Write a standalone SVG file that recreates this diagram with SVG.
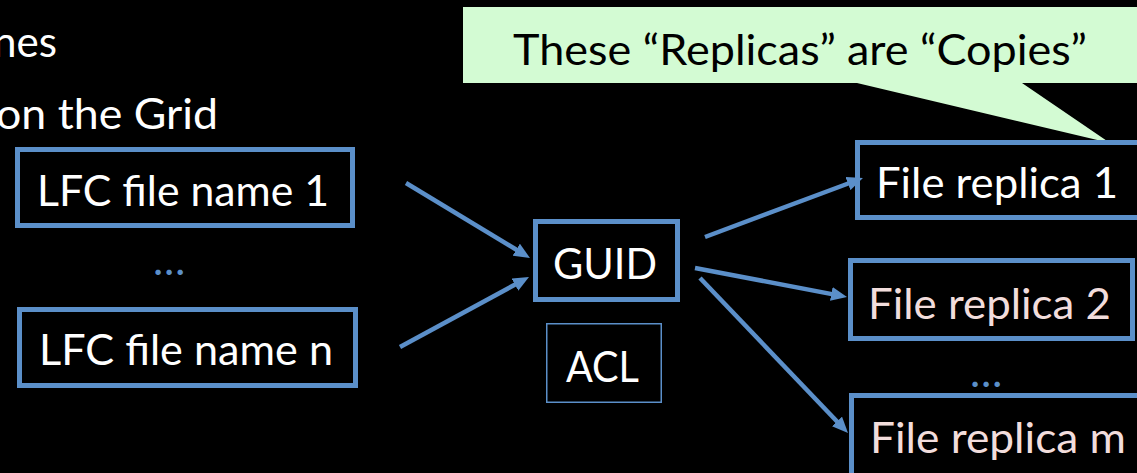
<svg xmlns="http://www.w3.org/2000/svg" width="1137" height="473" viewBox="0 0 1137 473">
  <defs>
    <style>
      text { font-family: Lato, "Open Sans", "Liberation Sans", sans-serif; font-size: 43px; }
      .lbl { fill: #ffffff; }
      .pink { fill: #f2dddc; }
      .dots { fill: #5b8fc9; }
      .box { fill: none; stroke: #5b8fc9; stroke-width: 5; }
      .thin { fill: none; stroke: #5b8fc9; stroke-width: 1.5; }
      .edge { stroke: #5b8fc9; stroke-width: 4.5; fill: none; }
    </style>
    <marker id="head" viewBox="0 0 16 14" refX="6" refY="7" markerWidth="16" markerHeight="14" markerUnits="userSpaceOnUse" orient="auto">
      <path d="M0,0 L16,7 L0,14 Z" fill="#5b8fc9"/>
    </marker>
  </defs>

  <rect width="1137" height="473" fill="#000000"/>

  <!-- bullet text fragments at the left edge -->
  <text class="lbl" x="-7" y="57" textLength="64" lengthAdjust="spacingAndGlyphs">nes</text>
  <text class="lbl" x="-4" y="129" textLength="222" lengthAdjust="spacingAndGlyphs">on the Grid</text>

  <!-- callout -->
  <g id="callout">
    <path d="M463,7 H1137 V83 H1022 L1110,143 L857,83 H463 Z" fill="#d3fbd3"/>
    <text x="513" y="65" fill="#000000" textLength="574" lengthAdjust="spacingAndGlyphs">These “Replicas” are “Copies”</text>
  </g>

  <g id="lfc1">
    <rect class="box" x="17.5" y="149.5" width="335" height="76"/>
    <text class="lbl" x="37" y="206" textLength="292" lengthAdjust="spacingAndGlyphs">LFC file name 1</text>
  </g>
  <g id="lfc-dots">
    <text class="dots" x="153" y="275">…</text>
  </g>
  <g id="lfcn">
    <rect class="box" x="19.5" y="309.5" width="336" height="76"/>
    <text class="lbl" x="39" y="365" textLength="294" lengthAdjust="spacingAndGlyphs">LFC file name n</text>
  </g>

  <g id="guid">
    <rect class="box" x="535.5" y="221.5" width="142" height="78"/>
    <text class="lbl" x="553" y="279" textLength="104" lengthAdjust="spacingAndGlyphs">GUID</text>
  </g>
  <g id="acl">
    <rect class="thin" x="546.75" y="323.75" width="114.5" height="78.5"/>
    <text class="lbl" x="566" y="382" textLength="73" lengthAdjust="spacingAndGlyphs">ACL</text>
  </g>

  <g id="replica1">
    <rect class="box" x="857.5" y="142.5" width="290" height="75"/>
    <text class="lbl" x="876" y="198" textLength="242" lengthAdjust="spacingAndGlyphs">File replica 1</text>
  </g>
  <g id="replica2">
    <rect class="box" x="850.5" y="260.5" width="282" height="78"/>
    <text class="pink" x="868" y="319" textLength="243" lengthAdjust="spacingAndGlyphs">File replica 2</text>
  </g>
  <g id="replica-dots">
    <text class="dots" x="970" y="387">…</text>
  </g>
  <g id="replicam">
    <rect class="box" x="851.5" y="395.5" width="295" height="100"/>
    <text class="pink" x="870" y="453" textLength="256" lengthAdjust="spacingAndGlyphs">File replica m</text>
  </g>

  <g id="connectors">
    <line class="edge" x1="406" y1="183" x2="521.4" y2="252.8" marker-end="url(#head)"/>
    <line class="edge" x1="400" y1="347" x2="520.2" y2="281.8" marker-end="url(#head)"/>
    <line class="edge" x1="705" y1="237" x2="853.6" y2="181.5" marker-end="url(#head)"/>
    <line class="edge" x1="695" y1="268" x2="837.2" y2="295.1" marker-end="url(#head)"/>
    <line class="edge" x1="700" y1="278" x2="841.1" y2="425.8" marker-end="url(#head)"/>
  </g>
</svg>
